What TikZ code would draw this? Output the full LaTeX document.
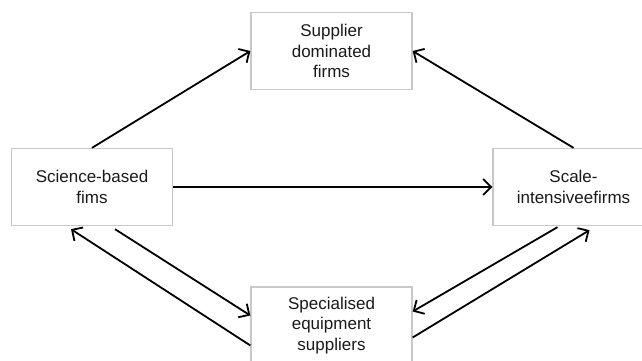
\documentclass[tikz,border=0pt]{standalone}
\usepackage{fontspec}
\setmainfont{Liberation Sans}
\usetikzlibrary{arrows.meta}
\definecolor{boxgray}{HTML}{C8C8C8}
\definecolor{txt}{HTML}{1A1A1A}
\tikzset{
  firmbox/.style={draw=boxgray, line width=1.3pt, fill=white, minimum width=161pt, minimum height=77pt,
    align=center, text=txt, inner sep=2pt, font=\fontsize{17}{20.5}\selectfont},
  flow/.style={line width=1.8pt, draw=black, -{Straight Barb[length=8pt,width=16pt,line width=1.8pt]}}
}
\begin{document}
\begin{tikzpicture}[x=1pt,y=-1pt]
\useasboundingbox (0,0) rectangle (642,361);
\clip (0,0) rectangle (642,361);
\node[firmbox] (sup) at (331.5,51) {Supplier\\dominated\\firms};
\node[firmbox] (sci) at (92,187) {Science-based\\fims};
\node[firmbox] (scale) at (573.5,187) {Scale-\\intensiveefirms};
\node[firmbox] (spec) at (331.5,325.5) {Specialised\\equipment\\suppliers};
\draw[flow] (sci.north) -- (sup.west);
\draw[flow] (scale.north) -- (sup.east);
\draw[flow] (sci.east) -- (scale.west);
\draw[flow] ([xshift=23pt,yshift=-3pt]sci.south) -- ([yshift=10pt]spec.west);
\draw[flow] ([yshift=-20pt]spec.west) -- ([xshift=-21pt,yshift=-3pt]sci.south);
\draw[flow] ([xshift=-16pt,yshift=-1pt]scale.south) -- ([yshift=14pt]spec.east);
\draw[flow] ([yshift=-12pt]spec.east) -- ([xshift=16pt,yshift=-4pt]scale.south);
\end{tikzpicture}
\end{document}
